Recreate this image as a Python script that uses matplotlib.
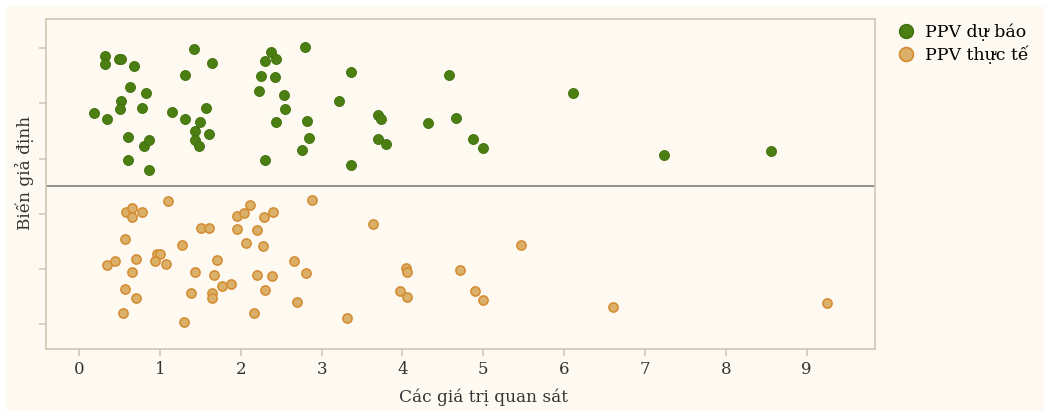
import numpy as np
import matplotlib
matplotlib.use("Agg")
import matplotlib.pyplot as plt
from matplotlib.lines import Line2D
from matplotlib.patches import Rectangle

plt.rcParams['font.family'] = ['DejaVu Serif']

# PPV dự báo: giá trị quan sát và độ lệch (jitter)
du_bao_x = [0.32, 0.32, 0.49, 0.52, 0.68, 0.63, 0.83, 0.52, 0.51, 0.78,
            0.19, 0.35, 0.61, 0.80, 0.87, 0.61, 0.86, 1.42, 1.64, 1.31,
            1.15, 1.57, 1.31, 1.50, 1.44, 1.61, 1.44, 1.48, 2.37, 2.30,
            2.44, 2.25, 2.43, 2.22, 2.54, 2.55, 2.44, 2.30, 2.79, 2.82,
            2.84, 2.76, 3.36, 3.22, 3.36, 3.70, 3.73, 3.70, 3.80, 4.58,
            4.32, 4.66, 4.87, 5.00, 6.11, 7.23, 8.56]
du_bao_j = [0.86, 0.71, 0.80, 0.80, 0.68, 0.30, 0.18, 0.05, -0.10, -0.08,
            -0.17, -0.29, -0.60, -0.77, -0.67, -1.03, -1.20, 0.99, 0.73, 0.52,
            -0.15, -0.08, -0.29, -0.34, -0.50, -0.55, -0.67, -0.77, 0.93, 0.77,
            0.80, 0.49, 0.47, 0.23, 0.16, -0.10, -0.34, -1.03, 1.02, -0.32,
            -0.62, -0.84, 0.56, 0.05, -1.12, -0.21, -0.29, -0.64, -0.74, 0.52,
            -0.36, -0.26, -0.65, -0.81, 0.18, -0.94, -0.86]

# PPV thực tế
thuc_te_x = [0.34, 0.45, 0.58, 0.66, 0.66, 0.78, 0.57, 0.70, 0.66, 0.57,
             0.70, 0.54, 1.10, 0.96, 1.00, 0.94, 1.08, 1.27, 1.44, 1.38,
             1.30, 1.51, 1.61, 1.71, 1.67, 1.65, 1.65, 1.77, 1.88, 1.95,
             2.04, 2.12, 1.96, 2.06, 2.29, 2.40, 2.20, 2.27, 2.20, 2.39,
             2.30, 2.16, 2.88, 2.66, 2.81, 2.69, 3.31, 3.64, 4.04, 4.06,
             3.97, 4.06, 4.71, 4.90, 5.00, 5.47, 6.61, 9.25]
thuc_te_j = [0.07, 0.14, 1.04, 1.10, 0.95, 1.04, 0.54, 0.19, -0.05, -0.36,
             -0.52, -0.79, 1.24, 0.28, 0.28, 0.14, 0.09, 0.43, -0.05, -0.43,
             -0.96, 0.75, 0.75, 0.16, -0.10, -0.43, -0.53, -0.31, -0.26, 0.97,
             1.02, 1.16, 0.73, 0.48, 0.95, 1.04, 0.71, 0.42, -0.10, -0.12,
             -0.38, -0.79, 1.26, 0.14, -0.07, -0.59, -0.88, 0.81, 0.03, -0.05,
             -0.40, -0.50, -0.02, -0.40, -0.55, 0.43, -0.69, -0.62]

nhan = ["PPV dự báo", "PPV thực tế"]
tam = [4, 1]   # vị trí giữa của mỗi nhóm trên trục y
y_ticks = [0, 1, 2, 3, 4, 5]
x_ticks = list(range(10))

bg = '#fffaf1'
xanh = '#4b7f12'
cam_fill = '#dbb068'
cam_edge = '#d48a30'
khung = '#cdc7b4'

fig = plt.figure(figsize=(10.44, 4.11), dpi=100, facecolor='white')
fig.patches.append(Rectangle((6 / 1044, 0), 1, 1 - 6 / 411, transform=fig.transFigure,
                             facecolor=bg, edgecolor='none', zorder=-10))
ax = fig.add_axes([0.0441, 0.150, 0.794, 0.803])
ax.set_facecolor(bg)

ax.scatter(du_bao_x, np.array(du_bao_j) + tam[0], s=52, color=xanh,
           edgecolor='#3f6e0c', linewidth=0.6, zorder=3)
ax.scatter(thuc_te_x, np.array(thuc_te_j) + tam[1], s=44, color=cam_fill,
           edgecolor=cam_edge, linewidth=1.1, zorder=3)

ax.axhline(2.5, color='#8a8a86', linewidth=1.3, zorder=2)

ax.set_xlim(-0.408, 9.845)
ax.set_ylim(-0.45, 5.52)
ax.set_xticks(x_ticks)
ax.set_yticks(y_ticks)
ax.set_yticklabels([])
for s in ax.spines.values():
    s.set_color(khung)
    s.set_linewidth(1.2)
ax.tick_params(axis='both', colors=khung, length=5, width=1.1,
               labelcolor='#333333', labelsize=12)

ax.set_xlabel("Các giá trị quan sát", fontsize=12.2, color='#333333')
ax.xaxis.set_label_coords((483 - 46) / 829, -0.12)
ax.set_ylabel("Biến giả định", fontsize=12.2, color='#333333')
ax.yaxis.set_label_coords(-0.0145, 0.535)

handles = [Line2D([], [], marker='o', linestyle='none', markersize=10,
                  markerfacecolor=xanh, markeredgecolor='#3f6e0c'),
           Line2D([], [], marker='o', linestyle='none', markersize=10,
                  markerfacecolor=cam_fill, markeredgecolor=cam_edge,
                  markeredgewidth=1.2)]
fig.legend(handles, nhan, loc='upper left', bbox_to_anchor=(0.8425, 0.98),
           frameon=False, fontsize=12.5, handletextpad=0.5, labelspacing=0.25,
           handlelength=1.2)

fig.savefig('out.png', dpi=100, facecolor=fig.get_facecolor())
